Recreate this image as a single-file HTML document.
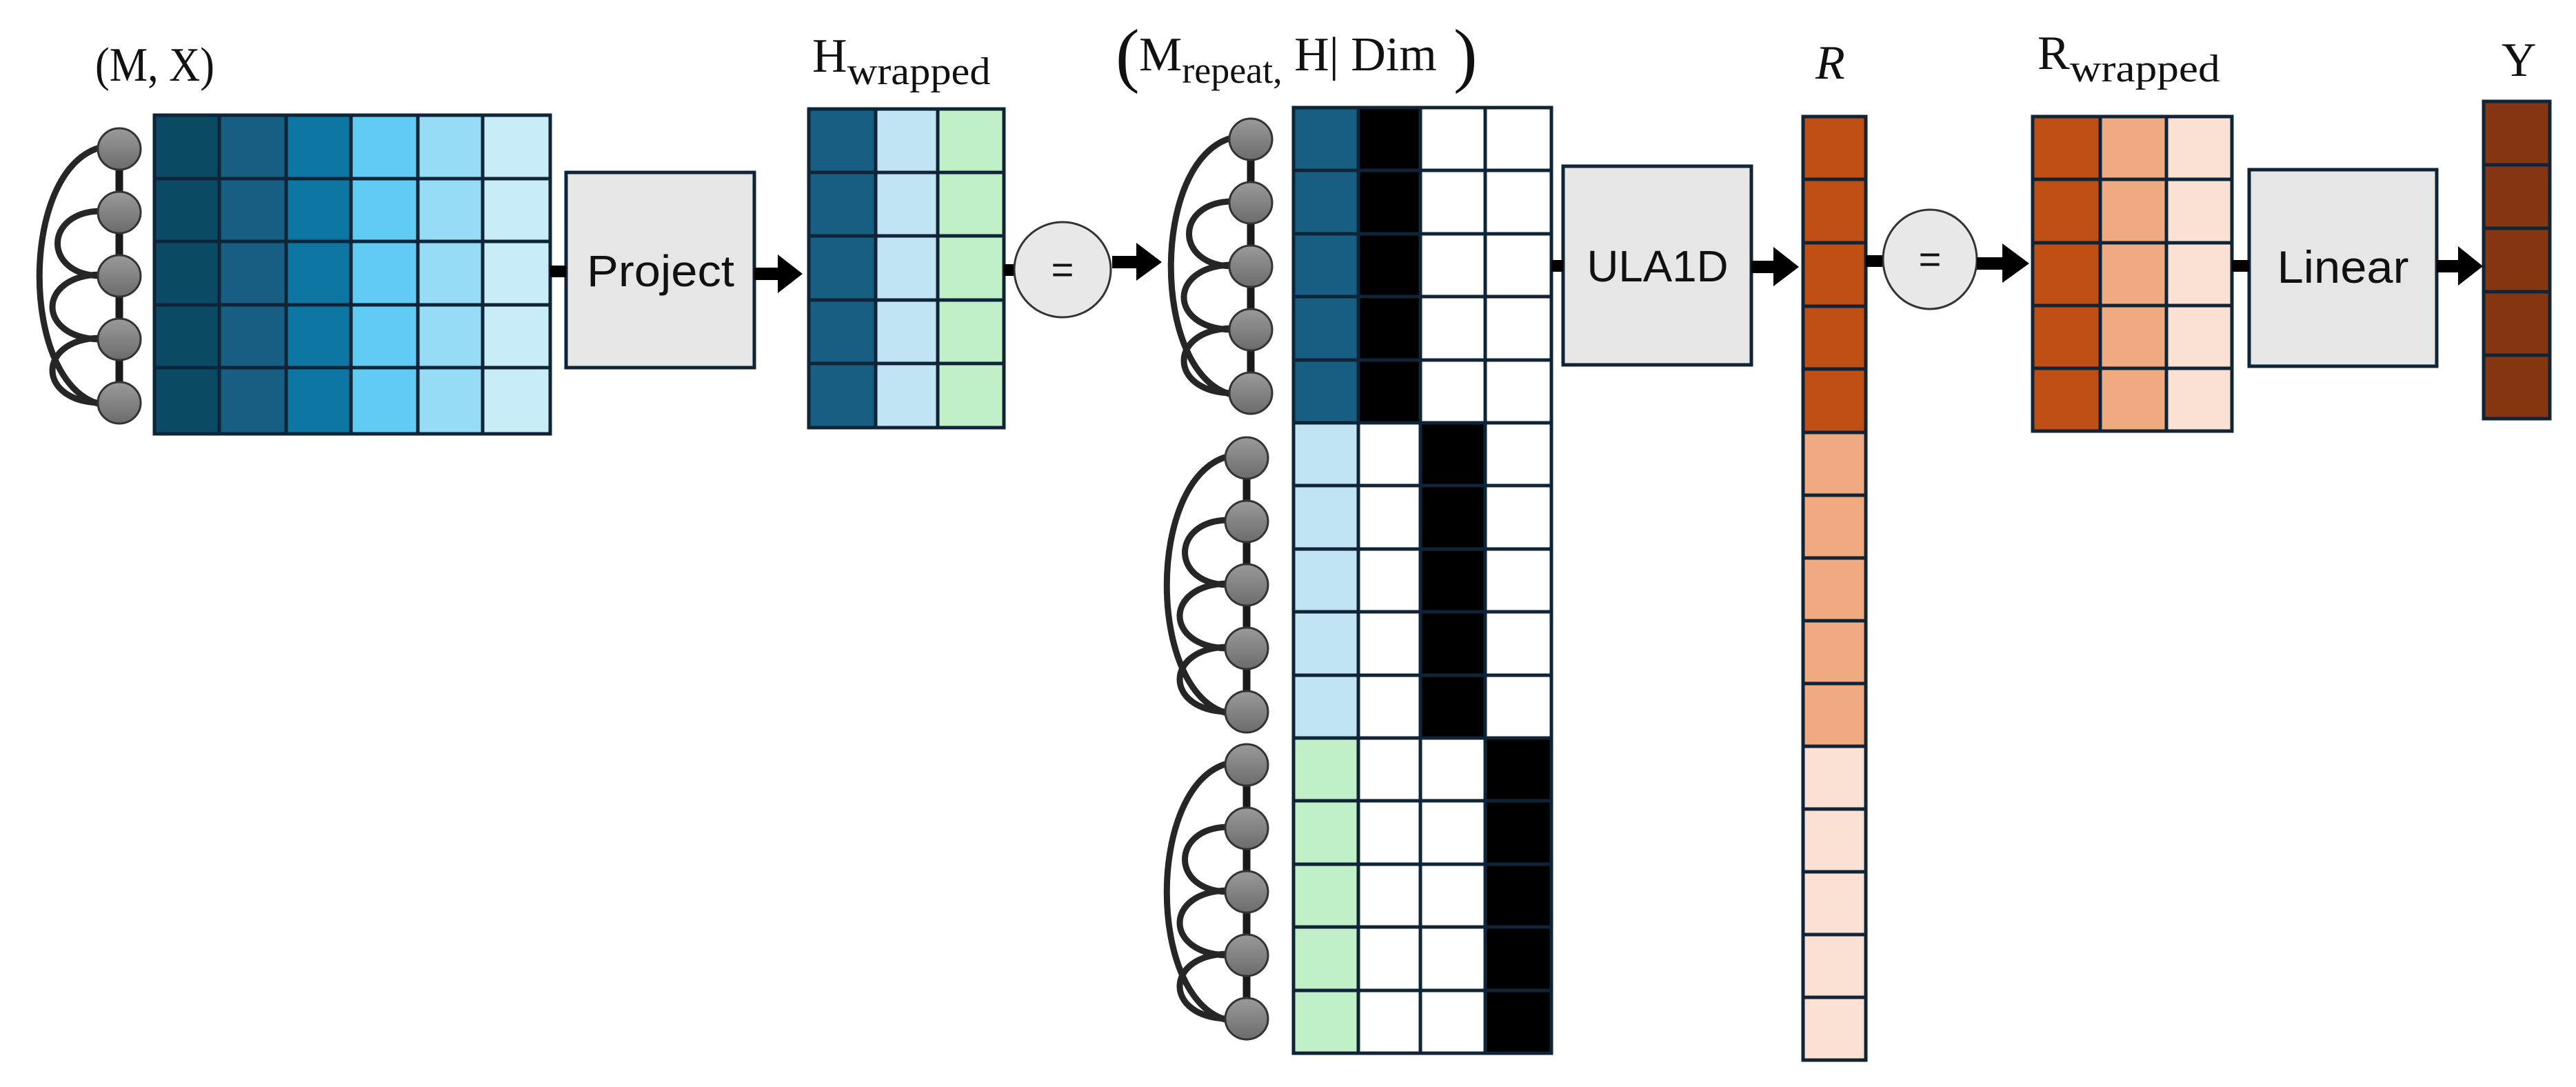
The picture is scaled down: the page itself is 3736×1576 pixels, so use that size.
<!DOCTYPE html>
<html><head><meta charset="utf-8"><style>html,body{margin:0;padding:0;background:#fff}svg{display:block}</style></head>
<body>
<svg width="3736" height="1576" viewBox="0 0 3736 1576" xmlns="http://www.w3.org/2000/svg">
<defs>
<linearGradient id="ng" x1="0" y1="0" x2="0" y2="1"><stop offset="0" stop-color="#9a9a9a"/><stop offset="1" stop-color="#6c6c6c"/></linearGradient>
<g id="graph">
<line x1="0" y1="0" x2="0" y2="368" stroke="#1a1a1a" stroke-width="11"/>
<path d="M-28,-2 C-145,30 -145,340 -28,370" fill="none" stroke="#262626" stroke-width="9"/>
<path d="M-28,90 C-110,92 -110,182 -28,184" fill="none" stroke="#262626" stroke-width="9"/>
<path d="M-28,182 C-120,184 -120,274 -28,276" fill="none" stroke="#262626" stroke-width="9"/>
<path d="M-28,274 C-120,276 -120,366 -28,368" fill="none" stroke="#262626" stroke-width="9"/>
<ellipse cx="0" cy="0" rx="31" ry="30" fill="url(#ng)" stroke="#333" stroke-width="3"/>
<ellipse cx="0" cy="92" rx="31" ry="30" fill="url(#ng)" stroke="#333" stroke-width="3"/>
<ellipse cx="0" cy="184" rx="31" ry="30" fill="url(#ng)" stroke="#333" stroke-width="3"/>
<ellipse cx="0" cy="276" rx="31" ry="30" fill="url(#ng)" stroke="#333" stroke-width="3"/>
<ellipse cx="0" cy="368" rx="31" ry="30" fill="url(#ng)" stroke="#333" stroke-width="3"/>
</g>
</defs>

<!-- graphs -->
<use href="#graph" x="173" y="216"/>
<use href="#graph" x="1814" y="202"/>
<use href="#graph" x="1808" y="664"/>
<use href="#graph" x="1808" y="1109"/>

<g stroke="#0f2537" stroke-width="5">
<!-- Matrix 1 -->
<g>
<rect x="224" y="167" width="94" height="462" fill="#0b4a64"/>
<rect x="318" y="167" width="97" height="462" fill="#175e82"/>
<rect x="415" y="167" width="94" height="462" fill="#0e76a3"/>
<rect x="509" y="167" width="97" height="462" fill="#61cbf3"/>
<rect x="606" y="167" width="94" height="462" fill="#97dcf7"/>
<rect x="700" y="167" width="98" height="462" fill="#c9ecfb"/>
<line x1="224" y1="259" x2="798" y2="259"/><line x1="224" y1="350" x2="798" y2="350"/><line x1="224" y1="442" x2="798" y2="442"/><line x1="224" y1="533" x2="798" y2="533"/>
</g>
<!-- Project -->
<rect x="821" y="250" width="273" height="283" fill="#e6e6e6"/>
<!-- H wrapped -->
<rect x="1173" y="158" width="97" height="462" fill="#175e82"/>
<rect x="1270" y="158" width="90" height="462" fill="#c0e4f4"/>
<rect x="1360" y="158" width="96" height="462" fill="#c1f0c8"/>
<line x1="1173" y1="250" x2="1456" y2="250"/><line x1="1173" y1="342" x2="1456" y2="342"/><line x1="1173" y1="435" x2="1456" y2="435"/><line x1="1173" y1="527" x2="1456" y2="527"/>
<!-- Matrix 2 -->
<rect x="1876" y="156" width="94" height="457" fill="#175e82"/>
<rect x="1970" y="156" width="90" height="457" fill="#000"/>
<rect x="2060" y="156" width="94" height="457" fill="#fff"/>
<rect x="2154" y="156" width="96" height="457" fill="#fff"/>
<rect x="1876" y="613" width="94" height="457" fill="#c0e4f4"/>
<rect x="1970" y="613" width="90" height="457" fill="#fff"/>
<rect x="2060" y="613" width="94" height="457" fill="#000"/>
<rect x="2154" y="613" width="96" height="457" fill="#fff"/>
<rect x="1876" y="1070" width="94" height="457" fill="#c1f0c8"/>
<rect x="1970" y="1070" width="90" height="457" fill="#fff"/>
<rect x="2060" y="1070" width="94" height="457" fill="#fff"/>
<rect x="2154" y="1070" width="96" height="457" fill="#000"/>
<line x1="1876" y1="247" x2="2250" y2="247"/><line x1="1876" y1="339" x2="2250" y2="339"/><line x1="1876" y1="430" x2="2250" y2="430"/><line x1="1876" y1="522" x2="2250" y2="522"/>
<line x1="1876" y1="704" x2="2250" y2="704"/><line x1="1876" y1="796" x2="2250" y2="796"/><line x1="1876" y1="887" x2="2250" y2="887"/><line x1="1876" y1="979" x2="2250" y2="979"/>
<line x1="1876" y1="1161" x2="2250" y2="1161"/><line x1="1876" y1="1253" x2="2250" y2="1253"/><line x1="1876" y1="1344" x2="2250" y2="1344"/><line x1="1876" y1="1436" x2="2250" y2="1436"/>
<!-- ULA1D -->
<rect x="2267" y="241" width="273" height="288" fill="#e6e6e6"/>
<!-- R column -->
<rect x="2615" y="169" width="91" height="458" fill="#c04f15"/>
<rect x="2615" y="627" width="91" height="455" fill="#f0aa82"/>
<rect x="2615" y="1082" width="91" height="455" fill="#fbe1d3"/>
<line x1="2615" y1="260" x2="2706" y2="260"/><line x1="2615" y1="352" x2="2706" y2="352"/><line x1="2615" y1="444" x2="2706" y2="444"/><line x1="2615" y1="535" x2="2706" y2="535"/>
<line x1="2615" y1="718" x2="2706" y2="718"/><line x1="2615" y1="809" x2="2706" y2="809"/><line x1="2615" y1="900" x2="2706" y2="900"/><line x1="2615" y1="991" x2="2706" y2="991"/>
<line x1="2615" y1="1173" x2="2706" y2="1173"/><line x1="2615" y1="1264" x2="2706" y2="1264"/><line x1="2615" y1="1355" x2="2706" y2="1355"/><line x1="2615" y1="1446" x2="2706" y2="1446"/>
<!-- R wrapped -->
<rect x="2948" y="169" width="98" height="456" fill="#c04f15"/>
<rect x="3046" y="169" width="96" height="456" fill="#f0aa82"/>
<rect x="3142" y="169" width="95" height="456" fill="#fbe1d3"/>
<line x1="2948" y1="260" x2="3237" y2="260"/><line x1="2948" y1="352" x2="3237" y2="352"/><line x1="2948" y1="443" x2="3237" y2="443"/><line x1="2948" y1="534" x2="3237" y2="534"/>
<!-- Linear -->
<rect x="3262" y="246" width="272" height="285" fill="#e6e6e6"/>
<!-- Y -->
<rect x="3602" y="147" width="96" height="460" fill="#843511"/>
<line x1="3602" y1="239" x2="3698" y2="239"/><line x1="3602" y1="331" x2="3698" y2="331"/><line x1="3602" y1="423" x2="3698" y2="423"/><line x1="3602" y1="515" x2="3698" y2="515"/>
</g>

<!-- equal circles -->
<ellipse cx="1541" cy="391" rx="70" ry="69" fill="#e8e8e8" stroke="#333" stroke-width="3"/>
<ellipse cx="2799" cy="376" rx="68" ry="72" fill="#e8e8e8" stroke="#333" stroke-width="3"/>

<!-- connectors -->
<g fill="#000">
<rect x="798" y="385" width="23" height="17"/>
<rect x="1094" y="388" width="40" height="18"/><polygon points="1128,369 1164,397 1128,425"/>
<rect x="1456" y="383" width="14" height="17"/>
<rect x="1613" y="371" width="40" height="18"/><polygon points="1648,352 1685,380 1648,407"/>
<rect x="2250" y="377" width="17" height="17"/>
<rect x="2540" y="378" width="38" height="18"/><polygon points="2572,358 2609,387 2572,415"/>
<rect x="2706" y="370" width="24" height="17"/>
<rect x="2867" y="373" width="42" height="18"/><polygon points="2904,353 2943,382 2904,410"/>
<rect x="3237" y="377" width="25" height="17"/>
<rect x="3534" y="377" width="36" height="18"/><polygon points="3565,357 3601,386 3565,414"/>
</g>

<!-- box labels -->
<g font-family="Liberation Sans, sans-serif" fill="#111" text-anchor="middle">
<text x="958" y="415" font-size="64" textLength="214" lengthAdjust="spacingAndGlyphs">Project</text>
<text x="2404" y="408" font-size="64" textLength="205" lengthAdjust="spacingAndGlyphs">ULA1D</text>
<text x="3398" y="410" font-size="66" textLength="191" lengthAdjust="spacingAndGlyphs">Linear</text>
<text x="1541" y="410" font-size="56">=</text>
<text x="2799" y="395" font-size="56">=</text>
</g>

<!-- math labels -->
<g font-family="Liberation Serif, serif" fill="#111">
<text x="138" y="117" font-size="70" textLength="173" lengthAdjust="spacingAndGlyphs">(M, X)</text>
<text x="1178" y="104" font-size="70">H<tspan font-size="56" dy="18" textLength="208" lengthAdjust="spacingAndGlyphs">wrapped</tspan></text>
<text x="1618" y="114" font-size="104">(</text>
<text x="1652" y="102" font-size="70">M<tspan font-size="54" dy="18">repeat,</tspan><tspan dy="-18"> H| Dim</tspan></text>
<text x="2108" y="114" font-size="104">)</text>
<text x="2633" y="114" font-size="70" font-style="italic">R</text>
<text x="2955" y="100" font-size="70">R<tspan font-size="56" dy="18" textLength="218" lengthAdjust="spacingAndGlyphs">wrapped</tspan></text>
<text x="3628" y="110" font-size="70">Y</text>
</g>
</svg>
</body></html>
